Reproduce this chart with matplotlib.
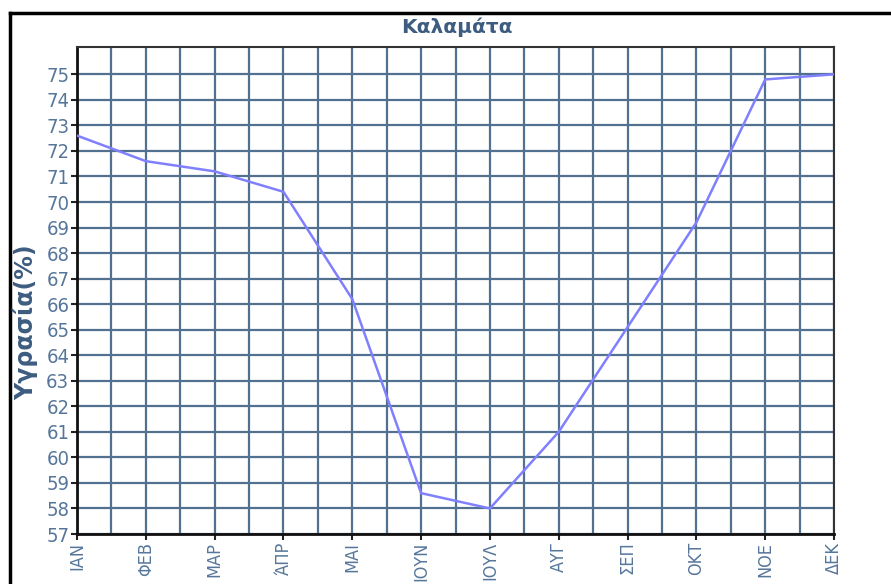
import matplotlib.pyplot as plt
from matplotlib.lines import Line2D

months = ["ΙΑΝ", "ΦΕΒ", "ΜΑΡ", "ΆΠΡ", "ΜΑΙ", "ΙΟΥΝ", "ΙΟΥΛ", "ΑΥΓ", "ΣΕΠ", "ΟΚΤ", "ΝΟΕ", "ΔΕΚ"]
humidity = [72.6, 71.6, 71.2, 70.4, 66.2, 58.6, 58.0, 61.0, 65.1, 69.2, 74.8, 75.0]
yticks = list(range(57, 76))

TEXT_COLOR = "#56769a"
GRID_COLOR = "#52708f"
LINE_COLOR = "#8080ff"

plt.rcParams["font.family"] = ["DejaVu Sans"]

fig = plt.figure(figsize=(8.91, 5.84), dpi=100)
ax = fig.add_axes([77 / 891, 1 - 534 / 584, (834 - 77) / 891, (534 - 47) / 584])

x = list(range(len(months)))
ax.plot(x, humidity, color=LINE_COLOR, linewidth=1.8, zorder=3)

ax.set_xlim(0, len(months) - 1)
ax.set_ylim(57, 76.07)
ax.set_yticks(yticks)
ax.set_yticklabels([str(v) for v in yticks], fontsize=14.5, color=TEXT_COLOR, fontstretch="condensed")
ax.set_xticks(x)
ax.set_xticklabels(months, rotation=90, fontsize=13, color=TEXT_COLOR, va="top", fontstretch="condensed")
ax.set_xticks([i + 0.5 for i in range(len(months) - 1)], minor=True)
ax.tick_params(axis="both", which="major", length=4, width=1.5, color="#222222", pad=1.5)
ax.tick_params(axis="x", which="minor", length=0)

ax.grid(True, which="both", color=GRID_COLOR, linewidth=1.6, zorder=1)
ax.set_axisbelow(True)

for side in ["left", "bottom"]:
    ax.spines[side].set_color("#111111")
    ax.spines[side].set_linewidth(2)
for side in ["top", "right"]:
    ax.spines[side].set_color("#333333")
    ax.spines[side].set_linewidth(1.5)

fig.text(457 / 891, 1 - 27 / 584, "Καλαμάτα", ha="center", va="center",
         fontsize=14.5, fontweight="bold", color="#3d5c80")
fig.text(25 / 891, 1 - 322 / 584, "Υγρασία(%)", ha="center", va="center", rotation=90,
         fontsize=17, fontweight="bold", color="#3d5c80")

# outer frame (top and left edges)
fig.add_artist(Line2D([10 / 891, 1], [1 - 13 / 584, 1 - 13 / 584], color="black", linewidth=2.5,
                      transform=fig.transFigure))
fig.add_artist(Line2D([10 / 891, 10 / 891], [0, 1 - 13 / 584], color="black", linewidth=2.5,
                      transform=fig.transFigure))

fig.savefig("out.png", dpi=100)
